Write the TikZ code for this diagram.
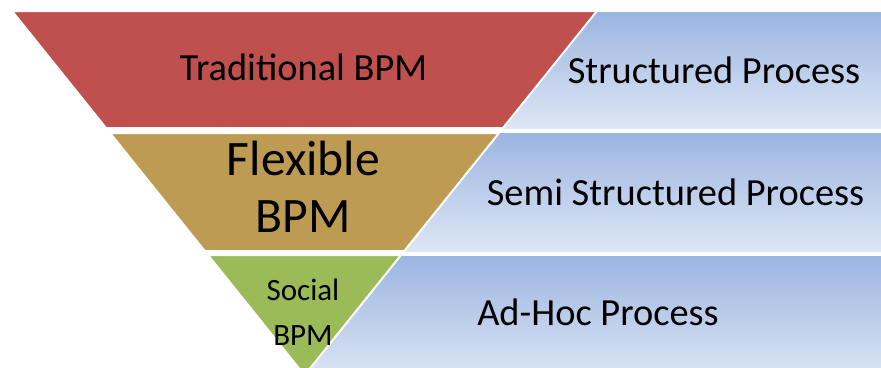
\documentclass[tikz,border=0pt]{standalone}
\usepackage{fontspec}
\setmainfont{Carlito}
\definecolor{redband}{RGB}{192,80,77}
\definecolor{tanband}{RGB}{190,155,83}
\definecolor{greenband}{RGB}{155,187,89}
\definecolor{bluetop}{RGB}{155,181,226}
\definecolor{bluebot}{RGB}{222,230,244}
\tikzset{
  bluebox/.style={top color=bluetop, bottom color=bluebot, draw=none},
  band/.style={draw=white, line width=2pt, line join=miter},
  lbl/.style={anchor=base, inner sep=0pt, text=black, align=center},
  big/.style={font=\fontsize{38.4}{46}\selectfont}
}
\begin{document}
\begin{tikzpicture}[x=1pt,y=-1pt]
\useasboundingbox (0,0) rectangle (881,367);
% blue boxes
\path[bluebox] (304,12) rectangle (890,128);
\path[bluebox] (304,133) rectangle (890,251);
\path[bluebox] (304,256) rectangle (890,380);
% bands
\path[band, fill=redband] (12,11) -- (597,11) -- (503,128) -- (106,128) -- cycle;
\path[band, fill=tanband] (110,133) -- (499,133) -- (404.3,251) -- (204.7,251) -- cycle;
\path[band, fill=greenband] (207.9,255) -- (401.1,255) -- (304.5,375.3) -- cycle;
% labels
\node[lbl, big] (trad) at (303.5,80) {Traditional BPM};
\node[lbl, font=\fontsize{49.6}{57}\selectfont] (flex) at (303.5,232) {Flexible\\BPM};
\node[lbl, font=\fontsize{31}{45}\selectfont] (soc) at (303,345) {Social\\BPM};
\node[lbl, big] (sp) at (714,83) {Structured Process};
\node[lbl, big] (ssp) at (675.5,205) {Semi Structured Process};
\node[lbl, big] (ahp) at (598,325) {Ad-Hoc Process};
\end{tikzpicture}
\end{document}
